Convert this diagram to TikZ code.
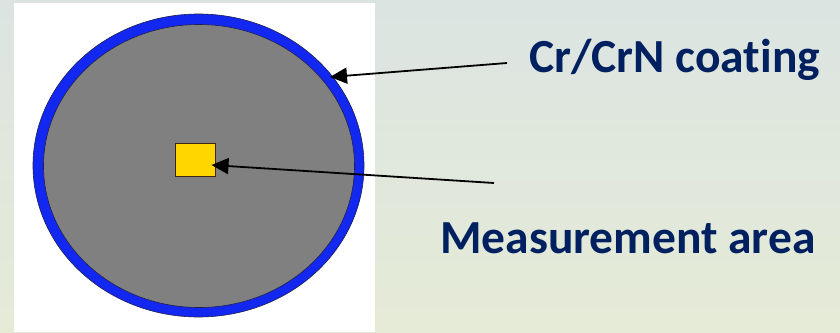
\documentclass[tikz,border=0pt]{standalone}
\usepackage{fontspec}
\setmainfont[Ligatures=NoCommon]{Carlito}
\usetikzlibrary{arrows.meta,shapes.geometric}
\definecolor{bgtop}{RGB}{220,228,226}
\definecolor{bgbot}{RGB}{229,235,214}
\definecolor{coatblue}{RGB}{18,40,240}
\definecolor{coreGray}{RGB}{128,128,128}
\definecolor{navytext}{RGB}{0,32,96}
\definecolor{gold}{RGB}{255,214,0}
\definecolor{rim}{RGB}{30,30,80}
\tikzset{
  lbl/.style={font=\bfseries\fontsize{47.5}{52}\selectfont, text=navytext, inner sep=0pt, anchor=base west},
  pointer/.style={draw=black, line width=1.8pt, -{Triangle[length=17pt,width=16pt]}},
}
\begin{document}
\begin{tikzpicture}[x=1pt,y=-1pt]
\useasboundingbox (0,0) rectangle (840,332);
\shade[top color=bgtop, bottom color=bgbot] (0,0) rectangle (840,332);
\fill[white] (14,3) rectangle (375,332);
% disc
\node (outer) [ellipse, minimum width=331pt, minimum height=303pt, fill=coatblue, draw=rim, line width=0.6pt, inner sep=0pt] at (198.5,165.5) {};
\node (inner) [ellipse, minimum width=311pt, minimum height=283pt, fill=coreGray, draw=rim, line width=0.6pt, inner sep=0pt] at (199,166) {};
\node (area) [rectangle, minimum width=40pt, minimum height=33pt, fill=gold, draw=black!70!brown, line width=1pt, inner sep=0pt] at (195,159.5) {};
% labels
\node (coat) [lbl] at (529,72) {Cr/CrN coating};
\node (meas) [lbl] at (440,253) {Measurement area};
% connectors
\coordinate (c1) at (507,63);
\coordinate (t1) at (330,77);
\coordinate (c2) at (494,183);
\coordinate (t2) at ([xshift=-4pt,yshift=-5.5pt]area.east);
\draw[pointer] (c1) -- (t1);
\draw[pointer] (c2) -- (t2);
\end{tikzpicture}
\end{document}
